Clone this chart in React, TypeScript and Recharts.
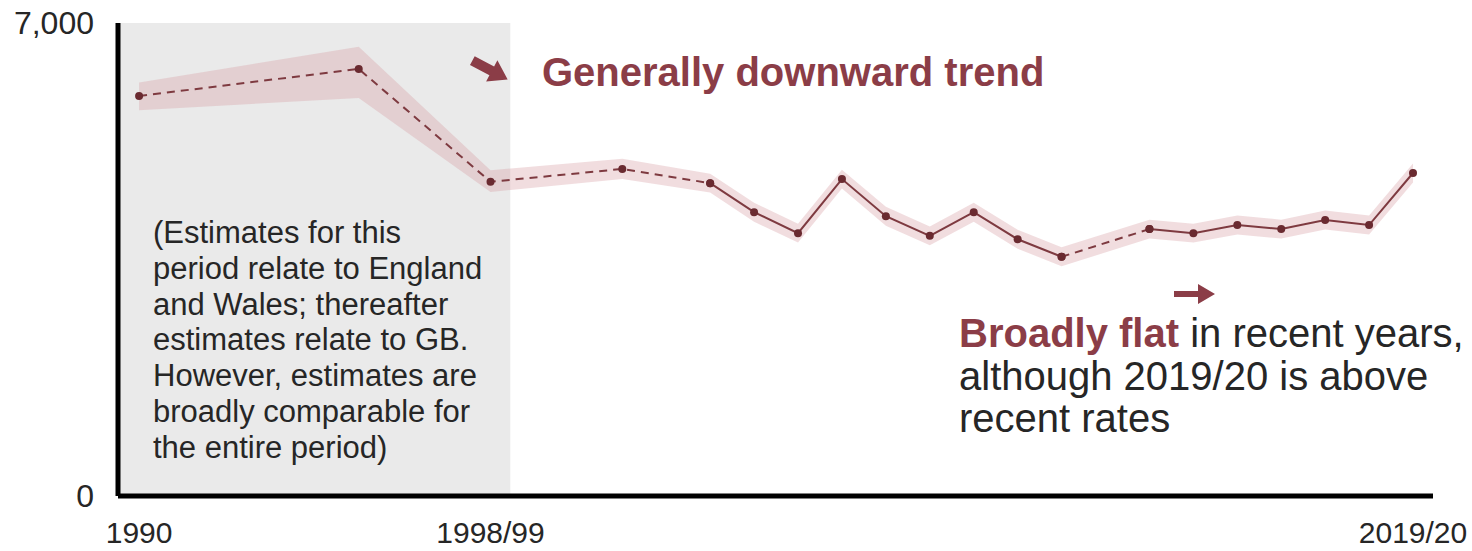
import React from 'react';
import { ComposedChart, Line, Area, XAxis, YAxis, ReferenceArea } from 'recharts';

// ---- data ----
const years = [1990, 1995, 1998, 2001, 2003, 2004, 2005, 2006, 2007, 2008, 2009, 2010, 2011, 2013, 2014, 2015, 2016, 2017, 2018, 2019];
const rate = [5920, 6320, 4650, 4840, 4630, 4200, 3890, 4690, 4140, 3850, 4200, 3800, 3540, 3950, 3890, 4010, 3950, 4085, 4010, 4780];
const lower = [5710, 5890, 4500, 4690, 4490, 4060, 3750, 4550, 4000, 3710, 4060, 3660, 3400, 3810, 3750, 3870, 3810, 3945, 3870, 4640];
const upper = [6120, 6650, 4820, 4990, 4770, 4340, 4030, 4830, 4280, 3990, 4340, 3940, 3680, 4090, 4030, 4150, 4090, 4225, 4150, 4920];

const dashedSpans = [[1990, 2003], [2011, 2013]];
const solidSpans = [[2003, 2011], [2013, 2019]];

const xTickValues = [1990, 1998, 2019];
const xTickLabels = ['1990', '1998/99', '2019/20'];
const yTickValues = [0, 7000];

const shadedPeriod = [1989.52, 1998.45];

// ---- derived table ----
const rows = years.map((y, i) => ({ year: y, rate: rate[i], band: [lower[i], upper[i]] }));
const spanRows = (s: number[]) => rows.filter((r) => r.year >= s[0] && r.year <= s[1]);

const FONT = '"Liberation Sans", Arial, Helvetica, sans-serif';
const MAROON = '#8b3d47';
const LINE = '#7e3a40';
const DOT = '#6a2a30';

const W = 1472;
const H = 551;

export default function App() {
  const dot = { r: 4, fill: DOT, stroke: 'none' };
  return (
    <div style={{ position: 'absolute', left: 0, top: 0, width: W, height: H, background: '#fff', fontFamily: FONT }}>
      <ComposedChart width={W} height={H} data={rows} margin={{ top: 23, right: 39, bottom: 0, left: 0 }}>
        <ReferenceArea x1={shadedPeriod[0]} x2={shadedPeriod[1]} y1={0} y2={7000} fill="#eaeaea" fillOpacity={1} stroke="none" ifOverflow="hidden" />
        <XAxis
          dataKey="year"
          type="number"
          domain={[1989.52, 2019.455]}
          allowDataOverflow
          ticks={xTickValues}
          tickFormatter={(v: number) => xTickLabels[xTickValues.indexOf(v)] ?? String(v)}
          height={55}
          tickLine={false}
          tickSize={6}
          tickMargin={20}
          axisLine={{ stroke: '#000', strokeWidth: 5 }}
          tick={{ fill: '#262626', fontSize: 30, fontFamily: FONT }}
          interval={0}
        />
        <YAxis
          type="number"
          domain={[0, 7000]}
          ticks={yTickValues}
          width={118}
          tickLine={false}
          tickSize={6}
          tickMargin={18}
          axisLine={{ stroke: '#000', strokeWidth: 5 }}
          tick={{ fill: '#262626', fontSize: 32, fontFamily: FONT }}
          tickFormatter={(v: number) => v.toLocaleString('en-GB')}
          interval={0}
        />
        <Area
          dataKey="band"
          type="linear"
          stroke="none"
          fill="#d79ea3"
          fillOpacity={0.35}
          isAnimationActive={false}
          activeDot={false}
        />
        {dashedSpans.map((s, i) => (
          <Line
            key={'d' + i}
            data={spanRows(s)}
            dataKey="rate"
            type="linear"
            stroke={LINE}
            strokeWidth={2}
            strokeDasharray="8 6"
            dot={dot}
            activeDot={false}
            isAnimationActive={false}
          />
        ))}
        {solidSpans.map((s, i) => (
          <Line
            key={'s' + i}
            data={spanRows(s)}
            dataKey="rate"
            type="linear"
            stroke={LINE}
            strokeWidth={2}
            dot={dot}
            activeDot={false}
            isAnimationActive={false}
          />
        ))}
      </ComposedChart>

      <svg width={W} height={H} style={{ position: 'absolute', left: 0, top: 0, pointerEvents: 'none' }}>
        <g transform="translate(490,70) rotate(28)">
          <polygon points="-20,-5 2,-5 2,-12 20,0 2,12 2,5 -20,5" fill={MAROON} />
        </g>
        <g transform="translate(1195,294)">
          <polygon points="-21,-3 3,-3 3,-10 20,0 3,10 3,3 -21,3" fill={MAROON} />
        </g>
      </svg>

      <div style={{ position: 'absolute', left: 542, top: 48, fontSize: 40, lineHeight: '48px', fontWeight: 700, color: MAROON, whiteSpace: 'nowrap' }}>
        Generally downward trend
      </div>

      <div style={{ position: 'absolute', left: 153, top: 215, fontSize: 31, lineHeight: '35.8px', color: '#262626', whiteSpace: 'nowrap' }}>
        (Estimates for this
        <br />
        period relate to England
        <br />
        and Wales; thereafter
        <br />
        estimates relate to GB.
        <br />
        However, estimates are
        <br />
        broadly comparable for
        <br />
        the entire period)
      </div>

      <div style={{ position: 'absolute', left: 959, top: 312, fontSize: 40, lineHeight: '42.5px', color: '#262626', whiteSpace: 'nowrap' }}>
        <span style={{ fontWeight: 700, color: MAROON }}>Broadly flat</span> in recent years,
        <br />
        although 2019/20 is above
        <br />
        recent rates
      </div>
    </div>
  );
}
